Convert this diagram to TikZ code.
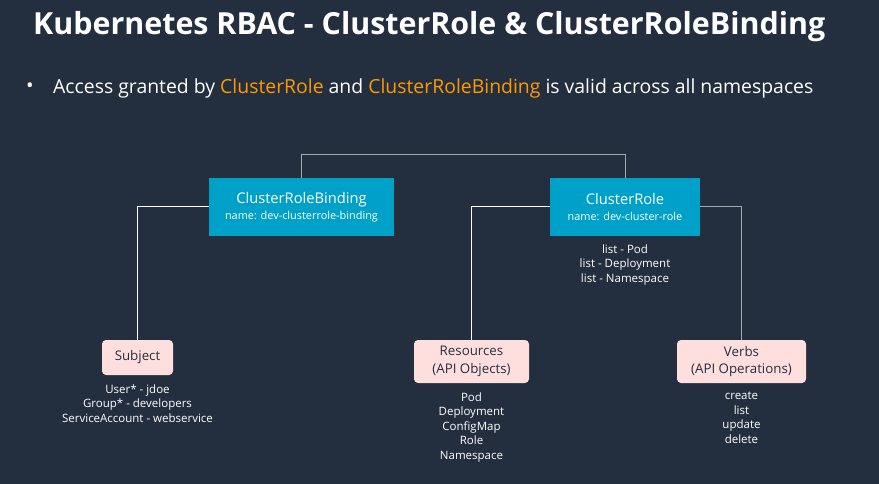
\documentclass[tikz,border=0pt]{standalone}
\usepackage{fontspec}
\setmainfont{Open Sans}
\usetikzlibrary{positioning}
\definecolor{awsnavy}{HTML}{232F3E}
\definecolor{awscyan}{HTML}{00A1C9}
\definecolor{awspink}{HTML}{FFDEDE}
\definecolor{awsorange}{HTML}{FF9900}
\definecolor{linkgray}{HTML}{A3A8AF}
\begin{document}
\begin{tikzpicture}[x=1pt, y=-1pt, font=\fontsize{11.5}{14.5}\selectfont,
	rolebox/.style={fill=awscyan, text=white, minimum height=58, inner sep=0pt, align=center, font=\fontsize{10.9}{16}\selectfont},
	partbox/.style={fill=awspink, text=awsnavy, rounded corners=4, inner sep=0pt, align=center, font=\fontsize{13.3}{17.5}\selectfont},
	itemlist/.style={text=white, align=center, inner sep=0pt},
	link/.style={draw=white, line width=1}]
	\fill[awsnavy] (0,0) rectangle (879,484);
	\useasboundingbox (0,0) rectangle (879,484);
	\node[anchor=west, inner sep=0pt, text=white, font=\fontsize{30.4}{36}\bfseries\selectfont] (title) at (33,27) {Kubernetes RBAC - ClusterRole \& ClusterRoleBinding};
	\node[anchor=west, inner sep=0pt, text=white, font=\fontsize{20}{24}\selectfont] (dot) at (26,88) {\textbullet};
	\node[anchor=west, inner sep=0pt, text=white, font=\fontsize{19.4}{24}\selectfont] (note) at (53,88) {Access granted by \textcolor{awsorange}{ClusterRole} and \textcolor{awsorange}{ClusterRoleBinding} is valid across all namespaces};
	\node[rolebox, minimum width=185] (crb) at (301.5,207) {{\fontsize{14.7}{16}\selectfont ClusterRoleBinding}\\name: dev-clusterrole-binding};
	\node[rolebox, minimum width=150] (cr) at (625,207) {{\fontsize{14.7}{16}\selectfont ClusterRole}\\name: dev-cluster-role};
	\node[partbox, minimum width=71, minimum height=35] (subj) at (137.5,357.5) {Subject};
	\node[partbox, minimum width=115, minimum height=43] (res) at (471.5,361.5) {Resources\\(API Objects)};
	\node[partbox, minimum width=129, minimum height=43] (verbs) at (741.5,361.5) {Verbs\\(API Operations)};
	\node[itemlist, below=8pt of cr] (crlist) {list - Pod\\list - Deployment\\list - Namespace};
	\node[itemlist, below=9pt of subj] (subjlist) {User* - jdoe\\Group* - developers\\ServiceAccount - webservice};
	\node[itemlist, below=9pt of res] (reslist) {Pod\\Deployment\\ConfigMap\\Role\\Namespace};
	\node[itemlist, below=9pt of verbs] (verblist) {create\\list\\update\\delete};
	\draw[link, draw=linkgray] (crb.north) -- ++(0,-23) -| (cr.north);
	\draw[link] (crb.west) -| (subj.north);
	\draw[link] (cr.west) -| (res.north);
	\draw[link, draw=linkgray] (cr.east) -| (verbs.north);
\end{tikzpicture}
\end{document}
